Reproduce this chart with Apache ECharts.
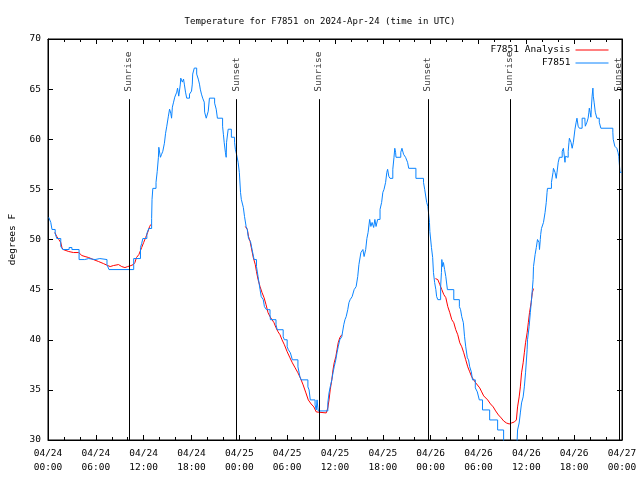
<!DOCTYPE html>
<html><head><meta charset="utf-8">
<script src="https://cdn.jsdelivr.net/npm/echarts@6/dist/echarts.min.js"></script>
<style>html,body{margin:0;padding:0;background:#fff}#c{width:640px;height:480px}</style>
</head><body><div id="c"></div>
<script>
const FONT = 'DejaVu Sans Mono';
const titleText = 'Temperature for F7851 on 2024-Apr-24 (time in UTC)';
const yLabel = 'degrees F';
const seriesNames = ['F7851 Analysis', 'F7851'];
const seriesColors = ['#ff0000', '#0a84ff'];
// x values: hours since 04/24 00:00 UTC
const xTickDays = ['04/24', '04/25', '04/26', '04/27'];
const yTicks = [30, 35, 40, 45, 50, 55, 60, 65, 70];
const sunTimes = [10.15, 23.67, 34.05, 47.67, 57.93, 71.67];
const sunNames = ['Sunrise', 'Sunset', 'Sunrise', 'Sunset', 'Sunrise', 'Sunset'];

const observed = [
[0.1,52.2],[0.35,51.7],[0.5,51.0],[0.9,50.6],[1.1,50.1],[1.6,49.3],[1.85,49.0],[2.65,49.2],[3.0,49.0],[3.9,48.0],[4.6,48.1],[5.1,48.0],[5.9,48.1],[6.5,48.0],[7.4,47.5],[7.65,47.0],[10.75,48.1],[11.6,49.2],[11.75,49.6],[11.9,50.1],[12.4,50.6],[12.65,51.1],[13.0,52.1],[13.05,54.0],[13.15,55.1],[13.55,55.7],[13.7,56.8],[13.85,58.2],[13.9,59.2],[14.1,58.2],[14.25,58.5],[14.4,58.8],[14.6,59.6],[14.75,60.6],[14.9,61.3],[15.1,62.3],[15.25,63.0],[15.4,62.6],[15.5,62.1],[15.6,63.2],[15.75,63.7],[15.9,64.2],[16.15,64.7],[16.25,65.1],[16.4,64.3],[16.6,65.5],[16.65,66.1],[16.85,65.7],[17.0,66.0],[17.1,65.5],[17.25,64.7],[17.4,64.1],[17.75,64.5],[18.0,64.8],[18.1,65.5],[18.15,66.5],[18.35,67.1],[18.65,66.5],[18.85,66.0],[19.0,65.5],[19.1,65.0],[19.25,64.5],[19.4,64.1],[19.6,63.7],[19.65,62.7],[19.85,62.1],[20.1,62.8],[20.25,64.1],[20.9,63.6],[21.1,63.0],[21.25,62.1],[21.9,61.3],[22.0,60.5],[22.1,59.7],[22.25,58.7],[22.35,58.2],[22.4,59.7],[22.6,61.0],[23.0,60.2],[23.4,59.7],[23.5,59.0],[23.65,58.5],[23.85,57.7],[24.0,56.7],[24.15,54.7],[24.25,54.0],[24.5,53.2],[24.65,52.3],[24.85,51.3],[25.0,51.0],[25.15,50.1],[25.4,49.8],[25.6,49.0],[25.85,48.0],[26.15,47.3],[26.35,46.3],[26.6,45.0],[26.75,44.3],[27.0,44.0],[27.15,43.3],[27.4,43.0],[27.85,42.5],[27.9,42.0],[28.6,41.5],[28.75,41.0],[29.5,40.3],[29.65,40.0],[30.0,39.3],[30.15,39.0],[30.4,38.7],[30.65,38.0],[31.35,37.3],[31.6,36.3],[31.75,36.0],[32.6,35.3],[32.75,35.0],[32.9,34.0],[33.5,33.5],[33.65,33.0],[33.75,34.0],[33.85,33.2],[33.9,32.9],[35.1,33.7],[35.25,34.7],[35.4,35.3],[35.6,36.0],[35.75,36.7],[35.9,37.3],[36.1,38.0],[36.25,38.7],[36.4,39.3],[36.6,40.0],[36.85,40.3],[37.1,41.5],[37.25,42.0],[37.4,42.3],[37.6,43.0],[37.75,43.7],[37.9,44.0],[38.15,44.3],[38.4,45.0],[38.65,45.3],[38.85,46.3],[39.0,47.5],[39.25,48.7],[39.5,49.0],[39.65,48.3],[39.85,49.0],[40.0,50.1],[40.15,50.7],[40.35,52.0],[40.5,51.3],[40.65,51.7],[40.85,51.2],[41.0,52.0],[41.15,51.3],[41.35,52.0],[41.65,53.0],[41.85,53.7],[42.0,54.7],[42.15,55.0],[42.35,55.7],[42.5,56.7],[42.6,57.0],[42.75,56.3],[42.9,56.1],[43.25,57.0],[43.4,58.2],[43.5,59.1],[43.6,58.7],[43.65,58.2],[44.25,58.7],[44.4,59.1],[44.6,58.5],[44.85,58.2],[45.1,57.7],[45.25,57.1],[46.15,56.1],[47.1,55.7],[47.25,55.0],[47.5,53.7],[47.65,53.3],[47.85,51.7],[47.9,50.8],[48.1,49.2],[48.25,48.2],[48.35,46.7],[48.5,45.7],[48.65,45.0],[48.75,44.3],[48.9,44.0],[49.25,45.3],[49.35,46.7],[49.4,48.0],[49.5,47.3],[49.6,47.7],[49.75,47.0],[49.9,46.3],[50.1,45.0],[50.9,44.0],[51.6,43.3],[51.75,43.0],[51.9,42.3],[52.1,41.7],[52.25,40.3],[52.4,39.3],[52.6,38.2],[52.75,38.0],[52.9,37.3],[53.1,36.8],[53.25,36.0],[53.6,35.2],[53.85,34.8],[54.1,34.0],[54.5,33.0],[55.4,32.0],[56.4,31.0],[57.15,29.5],[57.4,28.5],[58.0,28.0],[58.6,28.5],[58.85,30.0],[58.9,31.0],[59.1,31.7],[59.25,32.7],[59.4,33.7],[59.6,34.3],[59.75,35.3],[59.9,36.7],[60.1,39.0],[60.15,40.0],[60.35,41.3],[60.5,42.7],[60.65,44.0],[60.75,45.0],[60.85,46.0],[60.9,47.3],[61.1,48.5],[61.25,49.2],[61.4,50.0],[61.6,49.7],[61.65,49.0],[61.75,50.0],[61.8,50.5],[61.9,51.1],[62.15,51.7],[62.35,52.7],[62.5,53.7],[62.6,54.7],[62.65,55.1],[63.15,55.7],[63.35,56.7],[63.4,57.1],[63.6,56.7],[63.75,56.1],[63.85,56.7],[64.0,57.7],[64.15,58.2],[64.5,58.8],[64.65,59.1],[64.85,57.7],[64.9,58.3],[65.1,58.2],[65.25,58.8],[65.35,59.7],[65.4,60.1],[65.6,59.7],[65.75,59.1],[65.9,59.7],[66.1,61.0],[66.25,61.7],[66.35,62.1],[66.5,61.3],[66.65,61.1],[67.0,62.1],[67.35,61.8],[67.4,61.3],[67.6,61.7],[67.75,62.1],[67.85,62.7],[67.9,63.1],[68.0,62.7],[68.1,62.2],[68.15,63.0],[68.25,64.3],[68.35,65.1],[68.4,64.3],[68.5,63.7],[68.65,62.7],[68.85,62.1],[69.15,61.7],[69.35,61.1],[70.85,60.7],[70.9,60.0],[71.1,59.3],[71.35,59.1],[71.5,58.7],[71.6,58.3],[71.65,57.7],[71.75,56.7],[71.95,56.7]
];

const analysis = [
[0.85,50.7],[1.1,50.3],[1.35,50.0],[1.6,49.7],[1.75,49.2],[1.9,49.0],[2.6,48.8],[3.2,48.7],[3.85,48.7],[4.25,48.4],[4.65,48.3],[5.1,48.2],[5.7,48.0],[6.35,47.8],[6.95,47.6],[7.5,47.4],[7.8,47.3],[8.2,47.4],[8.85,47.5],[9.25,47.3],[9.65,47.2],[10.0,47.3],[10.4,47.4],[10.7,47.5],[10.9,47.7],[11.1,48.2],[11.4,48.5],[11.75,49.2],[12.0,49.7],[12.25,50.2],[12.5,50.7],[12.75,51.3],[12.9,51.5],
[18.0,null],
[24.75,51.3],[25.0,51.0],[25.15,50.3],[25.35,49.8],[25.5,49.2],[25.75,48.2],[26.0,47.5],[26.15,46.8],[26.35,46.0],[26.6,45.3],[26.85,44.7],[27.1,44.2],[27.35,43.5],[27.6,42.7],[27.85,42.3],[28.1,42.0],[28.35,41.7],[28.6,41.2],[28.85,40.8],[29.1,40.5],[29.35,40.0],[29.65,39.5],[30.0,38.8],[30.35,38.2],[30.65,37.7],[31.0,37.2],[31.35,36.7],[31.65,36.2],[32.0,35.5],[32.35,34.7],[32.65,34.0],[33.0,33.6],[33.35,33.3],[33.65,32.8],[33.9,32.7],[34.9,32.7],[35.1,33.2],[35.25,34.0],[35.4,35.0],[35.6,36.0],[35.75,37.0],[35.9,37.7],[36.1,38.3],[36.25,39.0],[36.4,39.7],[36.6,40.2],[36.85,40.5],
[42.0,null],
[48.6,46.1],[48.9,46.0],[49.15,45.5],[49.4,45.0],[49.65,44.5],[49.9,44.2],[50.15,43.3],[50.4,42.7],[50.65,42.0],[50.9,41.7],[51.15,41.0],[51.4,40.5],[51.65,39.7],[51.9,39.3],[52.15,38.7],[52.4,38.0],[52.65,37.3],[52.9,36.8],[53.15,36.3],[53.4,36.0],[53.65,35.7],[53.9,35.7],[54.15,35.2],[54.4,34.8],[54.65,34.4],[54.9,34.3],[55.15,34.0],[55.5,33.6],[55.85,33.3],[56.15,32.9],[56.5,32.5],[56.85,32.2],[57.15,31.9],[57.5,31.7],[57.85,31.6],[58.15,31.7],[58.5,31.8],[58.75,32.0],[58.9,33.3],[59.1,34.3],[59.25,35.3],[59.4,36.7],[59.6,37.7],[59.75,38.7],[59.9,39.7],[60.1,40.7],[60.25,41.7],[60.4,42.7],[60.6,43.7],[60.75,44.7],[60.9,45.1]
];

function xLabel(v) {
  const day = xTickDays[Math.floor(v / 24)];
  const hr = v % 24;
  return day + '\n' + (hr < 10 ? '0' : '') + hr + ':00';
}

const axisBlack = { color: '#000', width: 1 };
const baseX = {
  type: 'value', min: 0, max: 72, interval: 6,
  axisLine: { show: true, onZero: false, lineStyle: axisBlack },
  axisTick: { show: true, inside: true, length: 5, lineStyle: axisBlack },
  minorTick: { show: true, splitNumber: 3, length: 3, lineStyle: axisBlack },
  splitLine: { show: false }
};
const baseY = {
  type: 'value', min: 30, max: 70, interval: 5,
  axisLine: { show: true, onZero: false, lineStyle: axisBlack },
  axisTick: { show: true, inside: true, length: 5, lineStyle: axisBlack },
  splitLine: { show: false }
};

const chart = echarts.init(document.getElementById('c'), null, { renderer: 'canvas' });
chart.setOption({
  animation: false,
  backgroundColor: '#fff',
  title: {
    text: titleText, left: 'center', top: 12,
    textStyle: { fontFamily: FONT, fontSize: 9, fontWeight: 'normal', color: '#000' }
  },
  legend: {
    data: seriesNames.map((n, i) => ({
      name: n,
      itemStyle: { opacity: 0 },
      lineStyle: { color: seriesColors[i], width: 1 }
    })),
    orient: 'vertical', right: 31, top: 45, align: 'right',
    itemWidth: 33, itemHeight: 10, itemGap: 3, padding: 0, selectedMode: false,
    textStyle: { fontFamily: FONT, fontSize: 9.5, color: '#000' }
  },
  grid: { left: 46, right: 18, top: 39, bottom: 40, show: true, borderColor: '#000', borderWidth: 1, containLabel: false },
  xAxis: [
    Object.assign({}, baseX, {
      position: 'bottom',
      axisLabel: { formatter: xLabel, color: '#000', fontFamily: FONT, fontSize: 9.5, lineHeight: 14, margin: 7, showMinLabel: true, showMaxLabel: true }
    }),
    Object.assign({}, baseX, { position: 'top', axisLabel: { show: false } })
  ],
  yAxis: [
    Object.assign({}, baseY, {
      position: 'left',
      name: yLabel, nameLocation: 'middle', nameRotate: 90, nameGap: 30,
      nameTextStyle: { fontFamily: FONT, fontSize: 9.5, color: '#000' },
      axisLabel: { color: '#000', fontFamily: FONT, fontSize: 9.5, margin: 7,
        formatter: v => (yTicks.indexOf(v) >= 0 ? String(v) : '') }
    }),
    Object.assign({}, baseY, { position: 'right', axisLabel: { show: false } })
  ],
  series: [
    {
      name: 'sun', type: 'scatter', xAxisIndex: 0, yAxisIndex: 0,
      data: sunTimes.map((t, i) => [t, 64.7, sunNames[i]]),
      symbolSize: 1, itemStyle: { color: 'rgba(0,0,0,0)' }, silent: true, z: 1,
      label: {
        show: true, position: [0, 0], rotate: 90, align: 'left', verticalAlign: 'middle',
        formatter: p => p.value[2], fontFamily: FONT, fontSize: 9.5, color: '#000'
      },
      markLine: {
        silent: true, symbol: ['none', 'none'], animation: false,
        lineStyle: { color: '#000', width: 1, type: 'solid' },
        label: { show: false },
        data: sunTimes.map(t => [{ coord: [t, 30] }, { coord: [t, 64] }])
      }
    },
    {
      name: seriesNames[0], type: 'line', data: analysis, symbol: 'none', showSymbol: false,
      connectNulls: false, lineStyle: { color: seriesColors[0], width: 1 }, itemStyle: { color: seriesColors[0] }, z: 2
    },
    {
      name: seriesNames[1], type: 'line', step: 'end', data: observed, symbol: 'none', showSymbol: false,
      lineStyle: { color: seriesColors[1], width: 1 }, itemStyle: { color: seriesColors[1] }, z: 3
    }
  ]
});
</script>
</body></html>
